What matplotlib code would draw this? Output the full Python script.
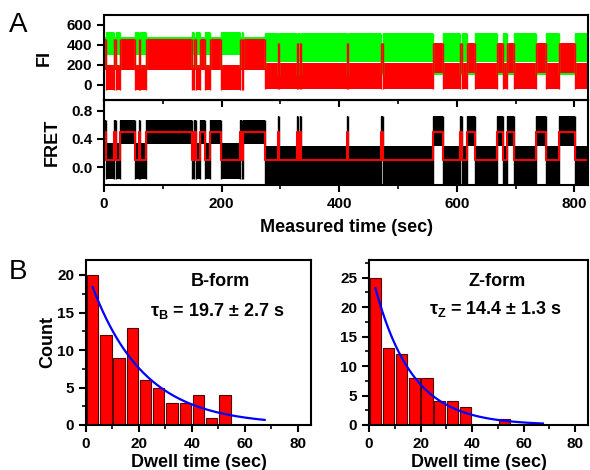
import matplotlib.pyplot as plt
import numpy as np
from matplotlib.ticker import MultipleLocator

plt.rcParams['font.family'] = ['Liberation Sans', 'DejaVu Sans']
plt.rcParams['font.weight'] = 'bold'
plt.rcParams['mathtext.fontset'] = 'custom'
plt.rcParams['mathtext.rm'] = 'Liberation Sans:bold'
plt.rcParams['mathtext.bf'] = 'Liberation Sans:bold'
plt.rcParams['mathtext.it'] = 'Liberation Sans:bold'

#=====================================================
# Panel A: smFRET time trace, split into segments by the two-state fit (sec)
state_edges = [0, 4, 17, 20, 27, 53, 60, 62, 72, 149,
               153, 156.5, 163, 172, 181, 199, 231, 234, 237, 274,
               296, 297.5, 328, 330, 333, 335, 413, 415, 471, 474.5,
               560, 577, 605, 608, 617, 631, 668, 678, 685, 697,
               735, 751, 773, 801, 823]
state_seq = [1, 0] * 22          # 1 = high FRET, 0 = low FRET

fret_fit = [0.11, 0.50]          # fitted FRET level (low, high)

# trace envelopes (lower, upper) per state, before / after era_split
era_split = 274
fret_env_early = [(-0.17, 0.34), (0.33, 0.67)]
fret_env_late = [(-0.23, 0.30), (0.30, 0.72)]
donor_env_early = [(300, 530), (170, 480)]
donor_env_late = [(230, 520), (100, 340)]
acceptor_env_early = [(-50, 200), (150, 460)]
acceptor_env_late = [(-40, 220), (120, 420)]

# Panel B: dwell time histograms (5 s bins)
bin_centers = [2.5, 7.5, 12.5, 17.5, 22.5, 27.5, 32.5, 37.5, 42.5, 47.5, 52.5]
b_counts = [20, 12, 9, 13, 6, 5, 3, 3, 4, 1, 4]
z_counts = [25, 13, 12, 8, 8, 4, 4, 3, 0, 0, 1]

# single exponential fits
b_amp, b_tau, b_err = 20.9, 19.7, 2.7
z_amp, z_tau, z_err = 27.6, 14.4, 1.3
fit_range = (2.5, 67.5)

#=====================================================

W, H = 590, 470

def box(left, top, right, bottom):
    return [left / W, 1 - bottom / H, (right - left) / W, (bottom - top) / H]

def envelope(env_early, env_late):
    lo, hi = [], []
    for start, state in zip(state_edges[:-1], state_seq):
        env = env_early if start < era_split else env_late
        lo.append(env[state][0])
        hi.append(env[state][1])
    lo.append(lo[-1])
    hi.append(hi[-1])
    return lo, hi

def draw_trace(ax, env_early, env_late, color):
    lo, hi = envelope(env_early, env_late)
    ax.fill_between(state_edges, lo, hi, step='post', color=color, lw=0)
    # the trace jumps at each transition
    for i in range(1, len(state_edges) - 1):
        ax.vlines(state_edges[i], min(lo[i - 1], lo[i]), max(hi[i - 1], hi[i]),
                  color=color, lw=1.0)

def style_axis(ax):
    for sp in ax.spines.values():
        sp.set_linewidth(1.5)
    ax.tick_params(width=1.5, length=5, labelsize=11)
    ax.tick_params(which='minor', width=1.2, length=3)

fig = plt.figure(figsize=(5.9, 4.7), dpi=100)

# ---- FI panel
ax_fi = fig.add_axes(box(104, 15, 588, 100))
draw_trace(ax_fi, donor_env_early, donor_env_late, '#00ff00')
draw_trace(ax_fi, acceptor_env_early, acceptor_env_late, '#ff0000')
ax_fi.set_xlim(0, 823)
ax_fi.set_ylim(-150, 700)
ax_fi.set_yticks([0, 200, 400, 600])
ax_fi.set_xticks([])
style_axis(ax_fi)
ax_fi.set_ylabel('FI', fontsize=13, fontweight='bold', labelpad=10)

# ---- FRET panel
ax_fr = fig.add_axes(box(104, 100, 588, 185))
draw_trace(ax_fr, fret_env_early, fret_env_late, 'black')
levels = [fret_fit[s] for s in state_seq]
ax_fr.step(state_edges, levels + [levels[-1]], where='post', color='red', lw=1.5)
ax_fr.set_xlim(0, 823)
ax_fr.set_ylim(-0.25, 0.95)
ax_fr.set_yticks([0.0, 0.4, 0.8])
ax_fr.set_xticks([0, 200, 400, 600, 800])
ax_fr.xaxis.set_minor_locator(MultipleLocator(100))
style_axis(ax_fr)
ax_fr.tick_params(axis='x', which='both', direction='out', top=False)
ax_fr.set_ylabel('FRET', fontsize=13, fontweight='bold', labelpad=7)
ax_fr.set_xlabel('Measured time (sec)', fontsize=13, fontweight='bold', labelpad=6)
ax_top = ax_fr.secondary_xaxis('top')
ax_top.set_xticks([0, 200, 400, 600, 800])
ax_top.xaxis.set_minor_locator(MultipleLocator(100))
ax_top.tick_params(which='both', direction='in', labeltop=False, width=1.5, length=5)
ax_top.tick_params(which='minor', length=3, width=1.2)

# ---- histograms
def histogram(ax, counts, amp, tau, ymax, ystep):
    ax.bar(bin_centers, counts, width=4.3, color='#ff0000', edgecolor='#5a0000', lw=0.8)
    t = np.linspace(fit_range[0], fit_range[1], 200)
    ax.plot(t, amp * np.exp(-t / tau), color='#0000ff', lw=1.6)
    ax.set_xlim(0, 85)
    ax.set_ylim(0, ymax)
    ax.set_xticks([0, 20, 40, 60, 80])
    ax.xaxis.set_minor_locator(MultipleLocator(10))
    ax.yaxis.set_major_locator(MultipleLocator(ystep))
    ax.yaxis.set_minor_locator(MultipleLocator(ystep / 2))
    style_axis(ax)
    ax.set_xlabel('Dwell time (sec)', fontsize=13, fontweight='bold', labelpad=2)

ax_b = fig.add_axes(box(86, 260, 311, 425))
histogram(ax_b, b_counts, b_amp, b_tau, 22, 5)
ax_b.set_ylabel('Count', fontsize=13, fontweight='bold', labelpad=1)

ax_z = fig.add_axes(box(369, 260, 588, 425))
histogram(ax_z, z_counts, z_amp, z_tau, 28, 5)

def ftext(x, y, s, **kw):
    fig.text(x / W, 1 - y / H, s, **kw)

ftext(220, 282, 'B-form', fontsize=13, ha='center', va='center')
ftext(217, 311, 'τ$_\\mathrm{B}$ = %.1f ± %.1f s' % (b_tau, b_err), fontsize=13, ha='center', va='center')
ftext(497, 281, 'Z-form', fontsize=13, ha='center', va='center')
ftext(496, 309, 'τ$_\\mathrm{Z}$ = %.1f ± %.1f s' % (z_tau, z_err), fontsize=13, ha='center', va='center')

ftext(18, 25, 'A', fontsize=20, fontweight='normal', ha='center', va='center')
ftext(18, 272, 'B', fontsize=20, fontweight='normal', ha='center', va='center')

fig.savefig('out.png', dpi=100)
